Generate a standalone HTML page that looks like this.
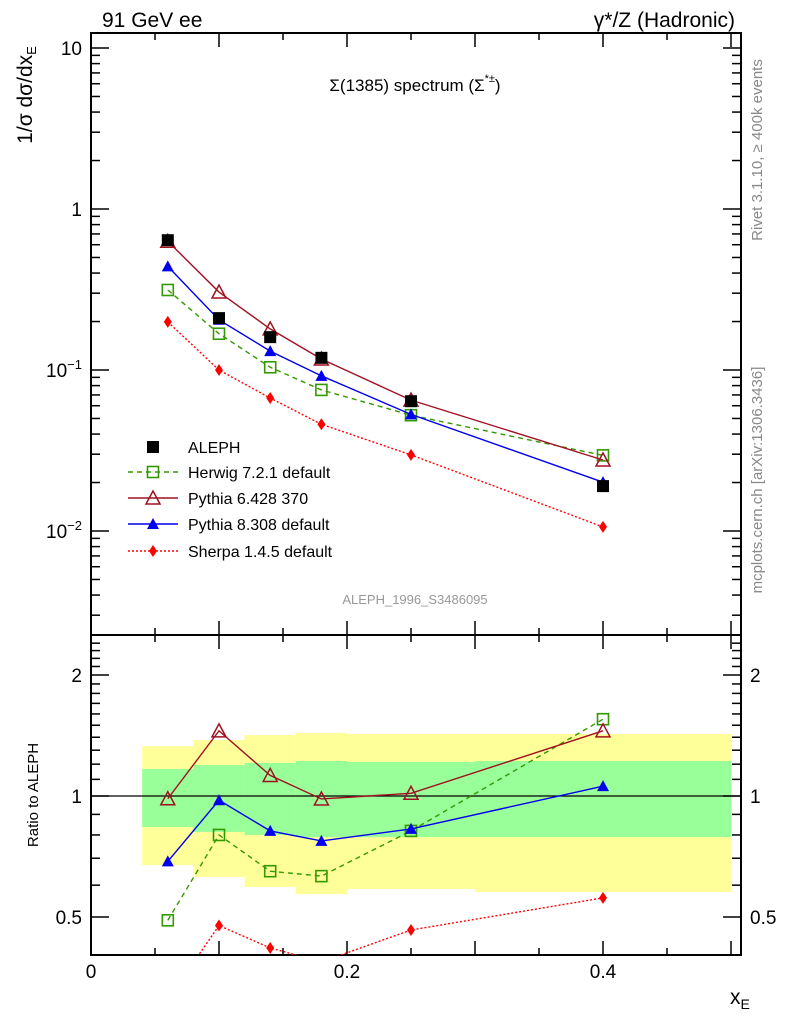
<!DOCTYPE html>
<html><head><meta charset="utf-8"><style>
html,body{margin:0;padding:0;background:#fff}
svg{display:block;font-family:"Liberation Sans",sans-serif}
</style></head><body>
<svg id="c" width="786" height="1024" viewBox="0 0 786 1024"></svg>
<script>
const xs=[0.06,0.10,0.14,0.18,0.25,0.40];
const aleph=[0.64,0.21,0.16,0.119,0.064,0.019];
const herwig=[0.314,0.168,0.104,0.0752,0.0524,0.0295];
const py6=[0.63,0.305,0.18,0.117,0.065,0.0276];
const py8=[0.44,0.205,0.131,0.092,0.053,0.0201];
const sherpa=[0.199,0.1,0.067,0.046,0.0297,0.0106];
const binEdges=[0.04,0.08,0.12,0.16,0.2,0.3,0.5];
const yelHi=[1.33,1.378,1.418,1.435,1.426,1.426];
const yelLo=[0.673,0.629,0.594,0.57,0.587,0.577];
const grnHi=[1.167,1.194,1.208,1.222,1.215,1.222];
const grnLo=[0.837,0.814,0.80,0.79,0.79,0.79];
const yTickVals=[10,1,0.1,0.01];
const xTickLabels=[0,0.2,0.4];
const rTickVals=[2,1,0.5];

const NS="http://www.w3.org/2000/svg";
const svg=document.getElementById('c');
function el(t,a,p){const e=document.createElementNS(NS,t);for(const k in a)e.setAttribute(k,a[k]);(p||svg).appendChild(e);return e;}
const L=91,R=741,T1=33,B1=635,T2=635,B2=955;
const X=v=>L+v*1280;
const Y=v=>209-Math.log10(v)*161;
const RY=v=>796-Math.log2(v)*121;

const bands=el('g',{});


for(let i=0;i<yelHi.length;i++){
  const r=el('rect',{x:X(binEdges[i]),y:RY(yelHi[i]),width:X(binEdges[i+1])-X(binEdges[i]),height:RY(yelLo[i])-RY(yelHi[i]),fill:'#ffff99'},bands);
  
  
}
for(let i=0;i<grnHi.length;i++){
  const r=el('rect',{x:X(binEdges[i]),y:RY(grnHi[i]),width:X(binEdges[i+1])-X(binEdges[i]),height:RY(grnLo[i])-RY(grnHi[i]),fill:'#99ff99'},bands);
  
  
}
el('line',{x1:L,x2:R,y1:RY(1),y2:RY(1),stroke:'#000','stroke-width':1.2});

for(const [t,b] of [[T1,B1],[T2,B2]]){
  const f=el('rect',{x:L,y:t,width:R-L,height:b-t,fill:'none',stroke:'#000','stroke-width':2});
  
  
}
for(let v=0;v<=0.5001;v+=0.05){
  const big=Math.abs(v*10-Math.round(v*10))<1e-6;const len=big?14:7;
  for(const [t,b] of [[T1,B1],[T2,B2]]){
    el('line',{x1:X(v),x2:X(v),y1:t,y2:t+len,stroke:'#000','stroke-width':1.5});
    el('line',{x1:X(v),x2:X(v),y1:b,y2:b-len,stroke:'#000','stroke-width':1.5});
  }
}
xTickLabels.forEach(v=>{const t=el('text',{x:X(v),y:978,'text-anchor':'middle','font-size':19});t.textContent=v===0?'0':String(v);
});
for(let d=-3;d<=1;d++)for(let m=1;m<=9;m++){
  const v=m*Math.pow(10,d);const y=Y(v);if(y<T1||y>B1)continue;const len=m===1?18:9;
  el('line',{x1:L,x2:L+len,y1:y,y2:y,stroke:'#000','stroke-width':1.5});
  el('line',{x1:R,x2:R-len,y1:y,y2:y,stroke:'#000','stroke-width':1.5});
}
yTickVals.forEach(v=>{
  const t=el('text',{x:82,y:Y(v)+7,'text-anchor':'end','font-size':19});
  if(v>=1)t.textContent=String(v);else{t.textContent='10';const s=el('tspan',{dy:-8,'font-size':13},t);s.textContent='−'+Math.round(-Math.log10(v));}
  
});
for(let v=0.4;v<=2.5;v+=0.1){
  const y=RY(v);if(y<T2+1||y>B2-1)continue;
  const major=[0.5,1,2].some(m=>Math.abs(m-v)<1e-6);const len=major?18:9;
  el('line',{x1:L,x2:L+len,y1:y,y2:y,stroke:'#000','stroke-width':1.5});
  el('line',{x1:R,x2:R-len,y1:y,y2:y,stroke:'#000','stroke-width':1.5});
}
rTickVals.forEach(v=>{
  const a=el('text',{x:82,y:RY(v)+7,'text-anchor':'end','font-size':19});a.textContent=String(v);
  
  const b=el('text',{x:750,y:RY(v)+7,'font-size':19});b.textContent=String(v);
  
});

function marker(g,type,x,y,col){
  if(type==='sq')el('rect',{x:x-5.5,y:y-5.5,width:11,height:11,fill:'none',stroke:col,'stroke-width':1.6},g);
  else if(type==='fsq')el('rect',{x:x-6,y:y-6,width:12,height:12,fill:col},g);
  else if(type==='otri')el('polygon',{points:`${x},${y-7} ${x-7},${y+6} ${x+7},${y+6}`,fill:'none',stroke:col,'stroke-width':1.5},g);
  else if(type==='ftri')el('polygon',{points:`${x},${y-6} ${x-6},${y+5} ${x+6},${y+5}`,fill:col},g);
  else if(type==='dia')el('polygon',{points:`${x},${y-6} ${x-4},${y} ${x},${y+6} ${x+4},${y}`,fill:col},g);
}
const series=[
 {name:'herwig',vals:herwig,col:'#339900',dash:'5,4',m:'sq',label:'Herwig 7.2.1 default'},
 {name:'pythia6',vals:py6,col:'#a01020',dash:'',m:'otri',label:'Pythia 6.428 370'},
 {name:'pythia8',vals:py8,col:'#0000ee',dash:'',m:'ftri',label:'Pythia 8.308 default'},
 {name:'sherpa',vals:sherpa,col:'#ff0000',dash:'2,2',m:'dia',label:'Sherpa 1.4.5 default'}
];
el('defs',{}).innerHTML='<clipPath id="cp1"><rect x="91" y="33" width="650" height="602"/></clipPath><clipPath id="cp2"><rect x="91" y="635" width="650" height="320"/></clipPath>';
series.forEach(s=>{
  const g=el('g',{'clip-path':'url(#cp1)'});
  
  
  el('polyline',{points:xs.map((x,i)=>X(x)+','+Y(s.vals[i])).join(' '),fill:'none',stroke:s.col,'stroke-width':1.4,'stroke-dasharray':s.dash},g);
  xs.forEach((x,i)=>marker(g,s.m,X(x),Y(s.vals[i]),s.col));
  const g2=el('g',{'clip-path':'url(#cp2)'});
  
  
  el('polyline',{points:xs.map((x,i)=>X(x)+','+RY(s.vals[i]/aleph[i])).join(' '),fill:'none',stroke:s.col,'stroke-width':1.4,'stroke-dasharray':s.dash},g2);
  xs.forEach((x,i)=>marker(g2,s.m,X(x),RY(s.vals[i]/aleph[i]),s.col));
});
const ga=el('g',{});


xs.forEach((x,i)=>marker(ga,'fsq',X(x),Y(aleph[i]),'#000'));

const lg=el('g',{});


const ly=[447,472,498,524,551];
marker(lg,'fsq',153,ly[0],'#000');
let t=el('text',{x:188,y:ly[0]+6,'font-size':16},lg);t.textContent='ALEPH';
series.forEach((s,i)=>{
  const y=ly[i+1];
  el('line',{x1:128,x2:178,y1:y,y2:y,stroke:s.col,'stroke-width':1.4,'stroke-dasharray':s.dash},lg);
  marker(lg,s.m,153,y,s.col);
  const tx=el('text',{x:188,y:y+6,'font-size':16},lg);tx.textContent=s.label;
});

function txt(x,y,s,size,attrs,name){const e=el('text',Object.assign({x:x,y:y,'font-size':size},attrs||{}));e.innerHTML=s;return e;}
txt(102,27,'91 GeV ee',21,{},'energy-label');
txt(735,27,'γ*/Z (Hadronic)',21,{'text-anchor':'end'},'process-label');
txt(415,91,'Σ(1385) spectrum (Σ<tspan dy="-9" font-size="11">*±</tspan><tspan dy="9">)</tspan>',17,{'text-anchor':'middle'},'plot-title');
txt(415,604,'ALEPH_1996_S3486095',13,{'text-anchor':'middle',fill:'#999'},'analysis-id');
txt(32,95,'1/σ dσ/dx<tspan font-size="13" dy="4">E</tspan>',21,{'text-anchor':'middle',transform:'rotate(-90 32 95)'},'y-axis-title');
txt(38,795,'Ratio to ALEPH',15,{'text-anchor':'middle',transform:'rotate(-90 38 795)'},'ratio-axis-title');
txt(730,1004,'x<tspan font-size="14" dy="5">E</tspan>',21,{},'x-axis-title');
txt(762,150,'Rivet 3.1.10, ≥ 400k events',15,{'text-anchor':'middle',fill:'#888',transform:'rotate(-90 762 150)'},'rivet-label');
txt(762,480,'mcplots.cern.ch [arXiv:1306.3436]',15,{'text-anchor':'middle',fill:'#888',transform:'rotate(-90 762 480)'},'mcplots-label');
</script>
</body></html>
